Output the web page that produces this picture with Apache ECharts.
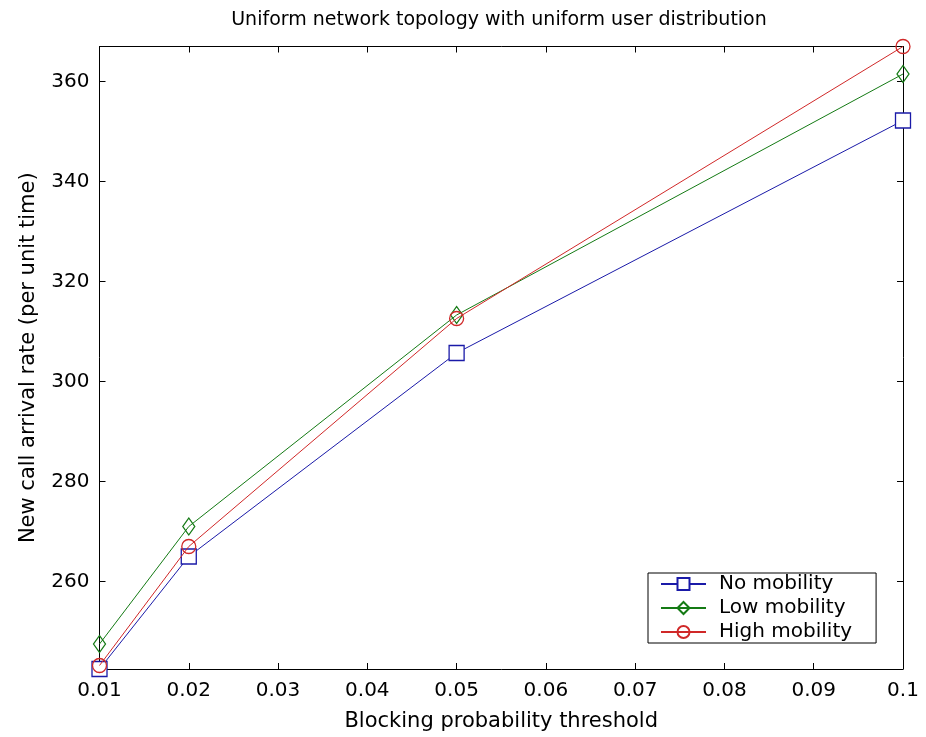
<!DOCTYPE html>
<html><head><meta charset="utf-8">
<script src="https://cdn.jsdelivr.net/npm/echarts@6/dist/echarts.min.js"></script>
<style>html,body{margin:0;padding:0;background:#fff}#c{width:926px;height:737px}</style>
</head><body><div id="c"></div>
<script>
const thresholds = [0.01, 0.02, 0.05, 0.1];
const noMobility = [242.5, 265.0, 305.7, 352.2];
const lowMobility = [247.5, 271.0, 313.3, 361.5];
const highMobility = [243.2, 267.0, 312.6, 367.0];
const xTicks = [0.01, 0.02, 0.03, 0.04, 0.05, 0.06, 0.07, 0.08, 0.09, 0.1];
const xTickLabels = ['0.01', '0.02', '0.03', '0.04', '0.05', '0.06', '0.07', '0.08', '0.09', '0.1'];
const yTicks = [260, 280, 300, 320, 340, 360];
const yTickLabels = ['260', '280', '300', '320', '340', '360'];

const FONT = 'DejaVu Sans, Verdana, sans-serif';
const chart = echarts.init(document.getElementById('c'), null, {renderer: 'canvas'});

function xLabel(v) {
  let best = 0, d = Infinity;
  xTicks.forEach((t, i) => { const dd = Math.abs(t - v); if (dd < d) { d = dd; best = i; } });
  return xTickLabels[best];
}
function yLabel(v) {
  let best = 0, d = Infinity;
  yTicks.forEach((t, i) => { const dd = Math.abs(t - v); if (dd < d) { d = dd; best = i; } });
  return yTickLabels[best];
}
const pairs = arr => thresholds.map((x, i) => [x, arr[i]]);

const axisLine = {show: true, lineStyle: {color: '#000', width: 1}};
const xBase = {
  type: 'value', min: 0.01, max: 0.1,
  axisLine: axisLine, splitLine: {show: false},
  axisTick: {show: true, inside: true, length: 6, customValues: xTicks, lineStyle: {color: '#000'}}
};
const yBase = {
  type: 'value', min: 242.5, max: 367,
  axisLine: axisLine, splitLine: {show: false},
  axisTick: {show: true, inside: true, length: 6, customValues: yTicks, lineStyle: {color: '#000'}}
};

const option = {
  backgroundColor: '#fff',
  animation: false,
  title: {
    text: 'Uniform network topology with uniform user distribution',
    left: 494, top: 6, textAlign: 'center',
    textStyle: {fontFamily: FONT, fontSize: 19, fontWeight: 'normal', color: '#000'}
  },
  grid: {left: 99.5, right: 23, top: 46.5, bottom: 68, containLabel: false},
  xAxis: [
    Object.assign({}, xBase, {
      position: 'bottom',
      name: 'Blocking probability threshold', nameLocation: 'middle', nameGap: 42,
      nameTextStyle: {fontFamily: FONT, fontSize: 21, color: '#000'},
      axisLabel: {show: true, customValues: xTicks, formatter: xLabel, margin: 12,
        fontFamily: FONT, fontSize: 20, color: '#000'}
    }),
    Object.assign({}, xBase, {position: 'top', axisLabel: {show: false}})
  ],
  yAxis: [
    Object.assign({}, yBase, {
      position: 'left',
      name: 'New call arrival rate (per unit time)', nameLocation: 'middle', nameGap: 60,
      nameTextStyle: {fontFamily: FONT, fontSize: 21, color: '#000'},
      axisLabel: {show: true, customValues: yTicks, formatter: yLabel, margin: 10,
        fontFamily: FONT, fontSize: 20, color: '#000'}
    }),
    Object.assign({}, yBase, {position: 'right', axisLabel: {show: false}})
  ],
  legend: {
    orient: 'vertical', left: 648, top: 573,
    backgroundColor: '#fff', borderColor: '#000', borderWidth: 1,
    padding: [1, 24, 1, 12], itemGap: 4, itemWidth: 45, itemHeight: 15,
    textStyle: {fontFamily: FONT, fontSize: 20, color: '#000', padding: [0, 0, 0, 8]},
    data: ['No mobility', 'Low mobility', 'High mobility']
  },
  series: [
    {name: 'No mobility', type: 'line', data: pairs(noMobility), symbol: 'rect', symbolSize: 15,
      color: '#1a1aa8', lineStyle: {width: 1, color: '#1a1aa8'},
      itemStyle: {color: '#fff', borderColor: '#1a1aa8', borderWidth: 1.3}, z: 3},
    {name: 'Low mobility', type: 'line', data: pairs(lowMobility), symbol: 'diamond', symbolSize: [12, 17],
      color: '#147a14', lineStyle: {width: 1, color: '#147a14'},
      itemStyle: {color: 'rgba(0,0,0,0)', borderColor: '#147a14', borderWidth: 1.3}, z: 2},
    {name: 'High mobility', type: 'line', data: pairs(highMobility), symbol: 'circle', symbolSize: 14,
      color: '#d02828', lineStyle: {width: 1, color: '#d02828'},
      itemStyle: {color: 'rgba(0,0,0,0)', borderColor: '#d02828', borderWidth: 1.3}, z: 4}
  ]
};
chart.setOption(option);
</script></body></html>
